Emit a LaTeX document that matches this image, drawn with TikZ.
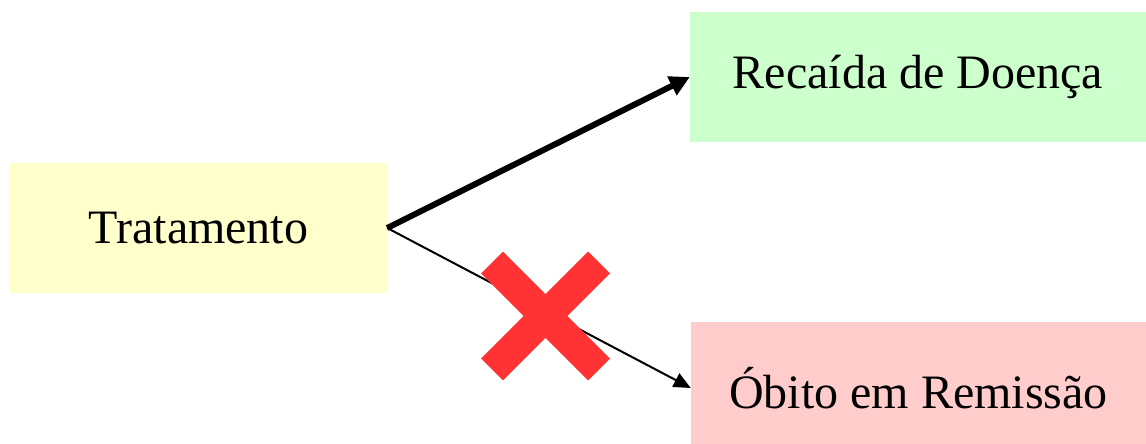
\documentclass[tikz,border=0pt]{standalone}
\usepackage{fontspec}
\setmainfont{Liberation Serif}
\usetikzlibrary{arrows.meta}
\definecolor{boxyellow}{HTML}{FFFFCC}
\definecolor{boxgreen}{HTML}{CCFFCC}
\definecolor{boxpink}{HTML}{FFCCCC}
\definecolor{crossred}{HTML}{FF3333}
\tikzset{
  state/.style={draw=none, inner sep=0pt, minimum height=130pt,
    font=\fontsize{48}{58}\selectfont, text=black},
  bigarrow/.style={line width=6pt, -{Triangle[length=20pt,width=20pt]}},
  smallarrow/.style={line width=2pt, -{Triangle[length=17pt,width=15pt]}},
  xbar/.style={line width=31pt, crossred, line cap=butt}
}
\begin{document}
\begin{tikzpicture}[x=1pt,y=-1pt]
  \useasboundingbox (0,0) rectangle (1146,444);
  \clip (0,0) rectangle (1146,444);
  \node[state, fill=boxyellow, minimum width=377pt] (trat) at (198.5,228) {Tratamento};
  \node[state, fill=boxgreen, minimum width=456pt] (rec) at (918,77) {Recaída de Doença};
  \node[state, fill=boxpink, minimum width=455pt, minimum height=132pt] (obito) at (918.5,388) {Óbito em Remissão};
  \draw[bigarrow] (trat.east) -- (rec.west);
  \draw[smallarrow] (trat.east) -- (obito.west);
  \coordinate (cross) at (545.5,316);
  \draw[xbar] (cross) ++(-53.5,-53.5) -- ++(107,107);
  \draw[xbar] (cross) ++(-53.5,53.5) -- ++(107,-107);
\end{tikzpicture}
\end{document}
